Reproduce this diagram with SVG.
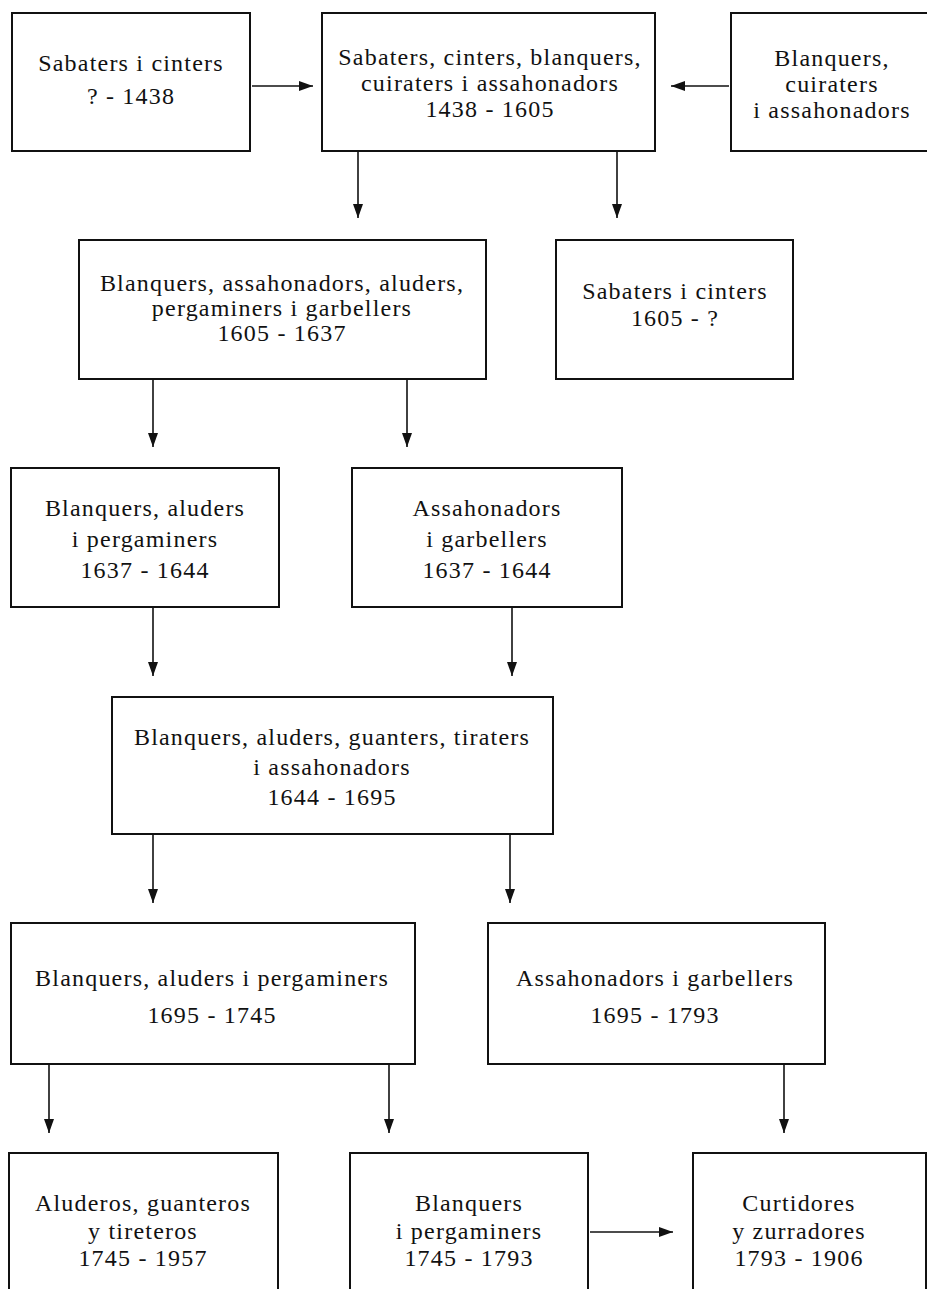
<svg xmlns="http://www.w3.org/2000/svg" width="927" height="1289" viewBox="0 0 927 1289">
<defs>
<style>
.box{fill:none;stroke:#111;stroke-width:2}
.t{font-family:"Liberation Serif","Times New Roman",serif;font-size:24px;letter-spacing:1.2px;fill:#111;text-anchor:middle}
.c{stroke:#111;stroke-width:1.6;fill:none;marker-end:url(#ah)}
</style>
<marker id="ah" viewBox="0 0 14 10" refX="14" refY="5" markerWidth="14" markerHeight="10" markerUnits="userSpaceOnUse" orient="auto">
<path d="M0,0 L14,5 L0,10 Z" fill="#111"/>
</marker>
</defs>
<rect width="927" height="1289" fill="#fff"/>

<g id="n1"><rect class="box" x="12" y="13" width="238" height="138"/>
<text class="t" x="131" y="71">Sabaters i cinters</text>
<text class="t" x="131" y="104">? - 1438</text></g>

<g id="n2"><rect class="box" x="322" y="13" width="333" height="138"/>
<text class="t" x="490" y="65">Sabaters, cinters, blanquers,</text>
<text class="t" x="490" y="91">cuiraters i assahonadors</text>
<text class="t" x="490" y="117">1438 - 1605</text></g>

<g id="n3"><rect class="box" x="731" y="13" width="210" height="138"/>
<text class="t" x="832" y="66">Blanquers,</text>
<text class="t" x="832" y="92">cuiraters</text>
<text class="t" x="832" y="118">i assahonadors</text></g>

<g id="n4"><rect class="box" x="79" y="240" width="407" height="139"/>
<text class="t" x="282" y="291">Blanquers, assahonadors, aluders,</text>
<text class="t" x="282" y="316">pergaminers i garbellers</text>
<text class="t" x="282" y="341">1605 - 1637</text></g>

<g id="n5"><rect class="box" x="556" y="240" width="237" height="139"/>
<text class="t" x="675" y="299">Sabaters i cinters</text>
<text class="t" x="675" y="326">1605 - ?</text></g>

<g id="n6"><rect class="box" x="11" y="468" width="268" height="139"/>
<text class="t" x="145" y="516">Blanquers, aluders</text>
<text class="t" x="145" y="547">i pergaminers</text>
<text class="t" x="145" y="578">1637 - 1644</text></g>

<g id="n7"><rect class="box" x="352" y="468" width="270" height="139"/>
<text class="t" x="487" y="516">Assahonadors</text>
<text class="t" x="487" y="547">i garbellers</text>
<text class="t" x="487" y="578">1637 - 1644</text></g>

<g id="n8"><rect class="box" x="112" y="697" width="441" height="137"/>
<text class="t" x="332" y="745">Blanquers, aluders, guanters, tiraters</text>
<text class="t" x="332" y="775">i assahonadors</text>
<text class="t" x="332" y="805">1644 - 1695</text></g>

<g id="n9"><rect class="box" x="11" y="923" width="404" height="141"/>
<text class="t" x="212" y="986">Blanquers, aluders i pergaminers</text>
<text class="t" x="212" y="1023">1695 - 1745</text></g>

<g id="n10"><rect class="box" x="488" y="923" width="337" height="141"/>
<text class="t" x="655" y="986">Assahonadors i garbellers</text>
<text class="t" x="655" y="1023">1695 - 1793</text></g>

<g id="n11"><rect class="box" x="9" y="1153" width="269" height="160"/>
<text class="t" x="143" y="1211">Aluderos, guanteros</text>
<text class="t" x="143" y="1239">y tireteros</text>
<text class="t" x="143" y="1266">1745 - 1957</text></g>

<g id="n12"><rect class="box" x="350" y="1153" width="238" height="160"/>
<text class="t" x="469" y="1211">Blanquers</text>
<text class="t" x="469" y="1239">i pergaminers</text>
<text class="t" x="469" y="1266">1745 - 1793</text></g>

<g id="n13"><rect class="box" x="693" y="1153" width="233" height="160"/>
<text class="t" x="799" y="1211">Curtidores</text>
<text class="t" x="799" y="1239">y zurradores</text>
<text class="t" x="799" y="1266">1793 - 1906</text></g>

<g id="connectors">
<line class="c" x1="252" y1="86" x2="313" y2="86"/>
<line class="c" x1="729" y1="86" x2="671" y2="86"/>
<line class="c" x1="358" y1="151" x2="358" y2="218"/>
<line class="c" x1="617" y1="151" x2="617" y2="218"/>
<line class="c" x1="153" y1="379" x2="153" y2="447"/>
<line class="c" x1="407" y1="379" x2="407" y2="447"/>
<line class="c" x1="153" y1="607" x2="153" y2="676"/>
<line class="c" x1="512" y1="607" x2="512" y2="676"/>
<line class="c" x1="153" y1="834" x2="153" y2="903"/>
<line class="c" x1="510" y1="834" x2="510" y2="903"/>
<line class="c" x1="49" y1="1064" x2="49" y2="1133"/>
<line class="c" x1="389" y1="1064" x2="389" y2="1133"/>
<line class="c" x1="784" y1="1064" x2="784" y2="1133"/>
<line class="c" x1="590" y1="1232" x2="673" y2="1232"/>
</g>
</svg>
